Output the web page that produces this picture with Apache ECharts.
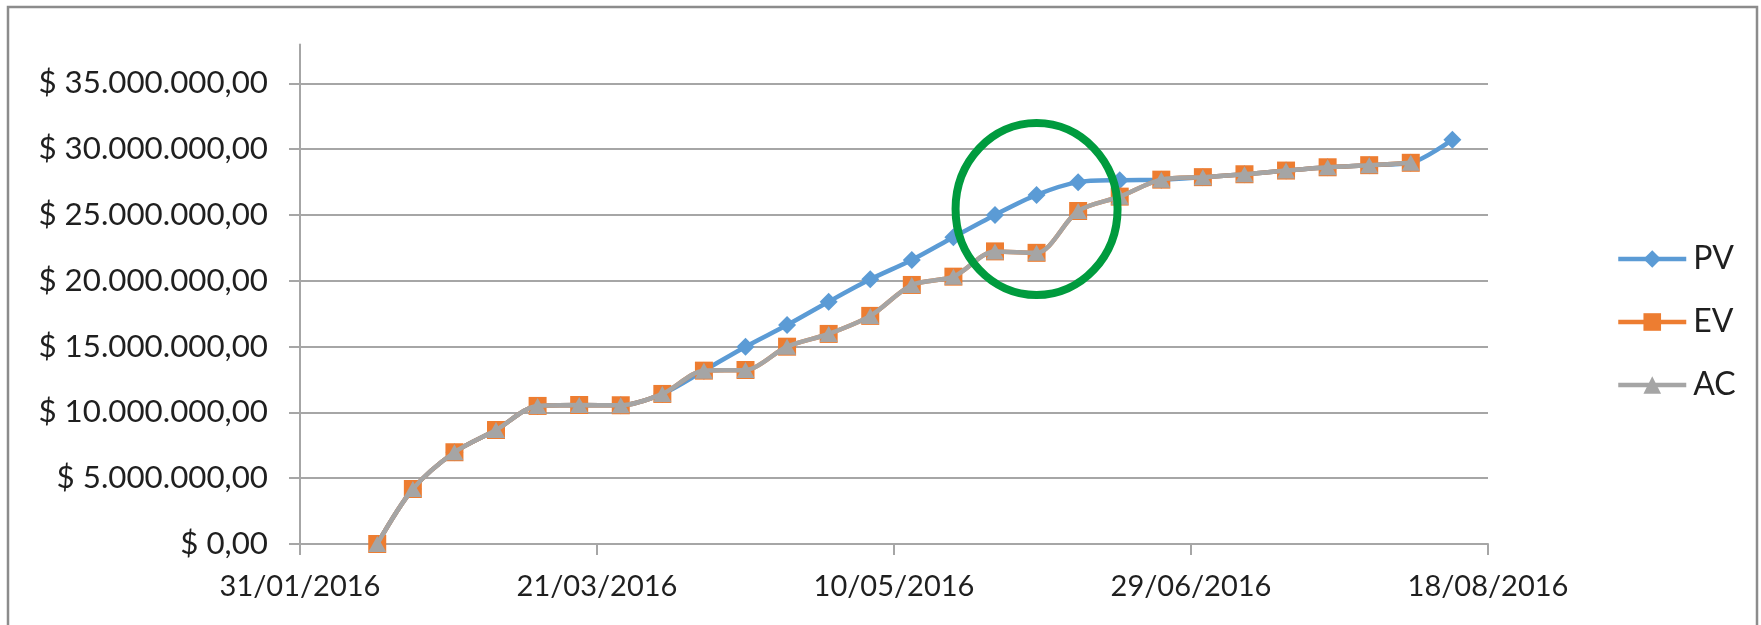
<!DOCTYPE html>
<html>
<head>
<meta charset="utf-8">
<script src="https://cdn.jsdelivr.net/npm/echarts@6/dist/echarts.min.js"></script>
<style>
html,body{margin:0;padding:0;background:#ffffff;}
#chart{width:1761px;height:625px;}
</style>
</head>
<body>
<div id="chart"></div>
<script>
// ---------- data ----------
const dates = ['13/02/2016','19/02/2016','26/02/2016','04/03/2016','11/03/2016','18/03/2016','25/03/2016',
  '01/04/2016','08/04/2016','15/04/2016','22/04/2016','29/04/2016','06/05/2016','13/05/2016','20/05/2016',
  '27/05/2016','03/06/2016','10/06/2016','17/06/2016','24/06/2016','01/07/2016','08/07/2016','15/07/2016',
  '22/07/2016','29/07/2016','05/08/2016','12/08/2016'];
const pvValues = [0, 4180000, 6970000, 8660000, 10490000, 10560000, 10540000,
  11400000, 13170000, 14990000, 16640000, 18410000, 20110000, 21580000, 23310000,
  25000000, 26520000, 27490000, 27640000, 27680000, 27870000, 28090000, 28370000,
  28620000, 28780000, 28960000, 30720000];
const evValues = [0, 4180000, 6970000, 8660000, 10490000, 10560000, 10540000,
  11400000, 13170000, 13220000, 14990000, 15960000, 17330000, 19680000, 20310000,
  22230000, 22120000, 25300000, 26390000, 27680000, 27870000, 28090000, 28370000,
  28620000, 28780000, 28960000];
const acValues = [0, 4180000, 6970000, 8660000, 10490000, 10560000, 10540000,
  11400000, 13170000, 13220000, 14990000, 15960000, 17330000, 19680000, 20310000,
  22230000, 22120000, 25300000, 26390000, 27680000, 27870000, 28090000, 28370000,
  28620000, 28780000, 28960000];
const seriesNames = ['PV', 'EV', 'AC'];
const xTickLabels = ['31/01/2016','21/03/2016','10/05/2016','29/06/2016','18/08/2016'];
const yTickLabels = ['$ 0,00','$ 5.000.000,00','$ 10.000.000,00','$ 15.000.000,00','$ 20.000.000,00',
  '$ 25.000.000,00','$ 30.000.000,00','$ 35.000.000,00'];
// annotation (green circle) anchored at a data location
const circleDate = '03/06/2016';
const circleValue = 25450000;

// ---------- helpers ----------
function dayOf(s){ const p = s.split('/').map(Number); return Date.UTC(p[2], p[1]-1, p[0]) / 86400000; }
const day0 = dayOf(xTickLabels[0]);
const dayMax = dayOf(xTickLabels[xTickLabels.length-1]) - day0;
const xStep = dayMax / (xTickLabels.length - 1);
const yStep = 5000000;
const yMax = yStep * (yTickLabels.length - 1);
const off = s => dayOf(s) - day0;
const pair = vals => vals.map((v, i) => [off(dates[i]), v]);

const FONT = 'Lato';
const TXT = '#1f1f1f';
const GRID_C = '#a6a6a6';
const LW = 4.5;

const chart = echarts.init(document.getElementById('chart'), null, {renderer: 'canvas'});

const lineBase = {type: 'line', smooth: 0.3, animation: false, xAxisIndex: 0, yAxisIndex: 0};

chart.setOption({
  animation: false,
  backgroundColor: '#ffffff',
  grid: [
    {left: 300, right: 273, top: 83.3, bottom: 81},
    {left: 300, right: 273, top: 44.6, bottom: 81}
  ],
  legend: {
    orient: 'vertical', left: 1611, top: 238,
    itemWidth: 68, itemHeight: 22, itemGap: 31,
    data: seriesNames,
    lineStyle: {width: LW},
    textStyle: {fontFamily: FONT, fontSize: 32, color: TXT, padding: [0, 0, 0, 2]}
  },
  xAxis: [{
    type: 'value', gridIndex: 0, min: 0, max: dayMax, interval: xStep,
    axisLine: {show: true, lineStyle: {color: GRID_C, width: 2}},
    axisTick: {show: true, inside: false, length: 11, lineStyle: {color: GRID_C, width: 2}},
    axisLabel: {margin: 28, fontFamily: FONT, fontSize: 29, color: TXT,
      formatter: v => xTickLabels[Math.round(v / xStep)]},
    splitLine: {show: false}
  }, {
    type: 'value', gridIndex: 1, min: 0, max: 1, show: false
  }],
  yAxis: [{
    type: 'value', gridIndex: 0, min: 0, max: yMax, interval: yStep,
    axisLine: {show: true, lineStyle: {color: GRID_C, width: 2}},
    axisTick: {show: true, inside: false, length: 11, lineStyle: {color: GRID_C, width: 2}},
    axisLabel: {margin: 32, fontFamily: FONT, fontSize: 31.3, color: TXT,
      formatter: v => yTickLabels[Math.round(v / yStep)]},
    splitLine: {show: true, lineStyle: {color: GRID_C, width: 2}}
  }, {
    type: 'value', gridIndex: 1, min: 0, max: 1,
    axisLine: {show: true, lineStyle: {color: GRID_C, width: 2}},
    axisTick: {show: false}, axisLabel: {show: false}, splitLine: {show: false}
  }],
  series: [
    Object.assign({}, lineBase, {
      name: seriesNames[0], data: pair(pvValues), z: 2,
      symbol: 'diamond', symbolSize: 18,
      itemStyle: {color: '#5B9BD5'}, lineStyle: {color: '#5B9BD5', width: LW}
    }),
    Object.assign({}, lineBase, {
      name: seriesNames[1], data: pair(evValues), z: 3,
      symbol: 'rect', symbolSize: 18,
      itemStyle: {color: '#ED7D31'}, lineStyle: {color: '#ED7D31', width: LW}
    }),
    Object.assign({}, lineBase, {
      name: seriesNames[2], data: pair(acValues), z: 4,
      symbol: 'triangle', symbolSize: [18, 16],
      itemStyle: {color: '#A5A5A5'}, lineStyle: {color: '#A5A5A5', width: LW}
    })
  ]
});

const c = chart.convertToPixel({gridIndex: 0}, [off(circleDate), circleValue]);
chart.setOption({
  graphic: [
    {type: 'rect', z: 0, silent: true,
      shape: {x: 8, y: 7, width: 1749, height: 700},
      style: {fill: 'none', stroke: '#8c8c8c', lineWidth: 2.5}},
    {type: 'ellipse', z: 100, silent: true,
      shape: {cx: c[0], cy: c[1], rx: 81, ry: 86},
      style: {fill: 'none', stroke: '#009B3E', lineWidth: 8}}
  ]
});
</script>
</body>
</html>
